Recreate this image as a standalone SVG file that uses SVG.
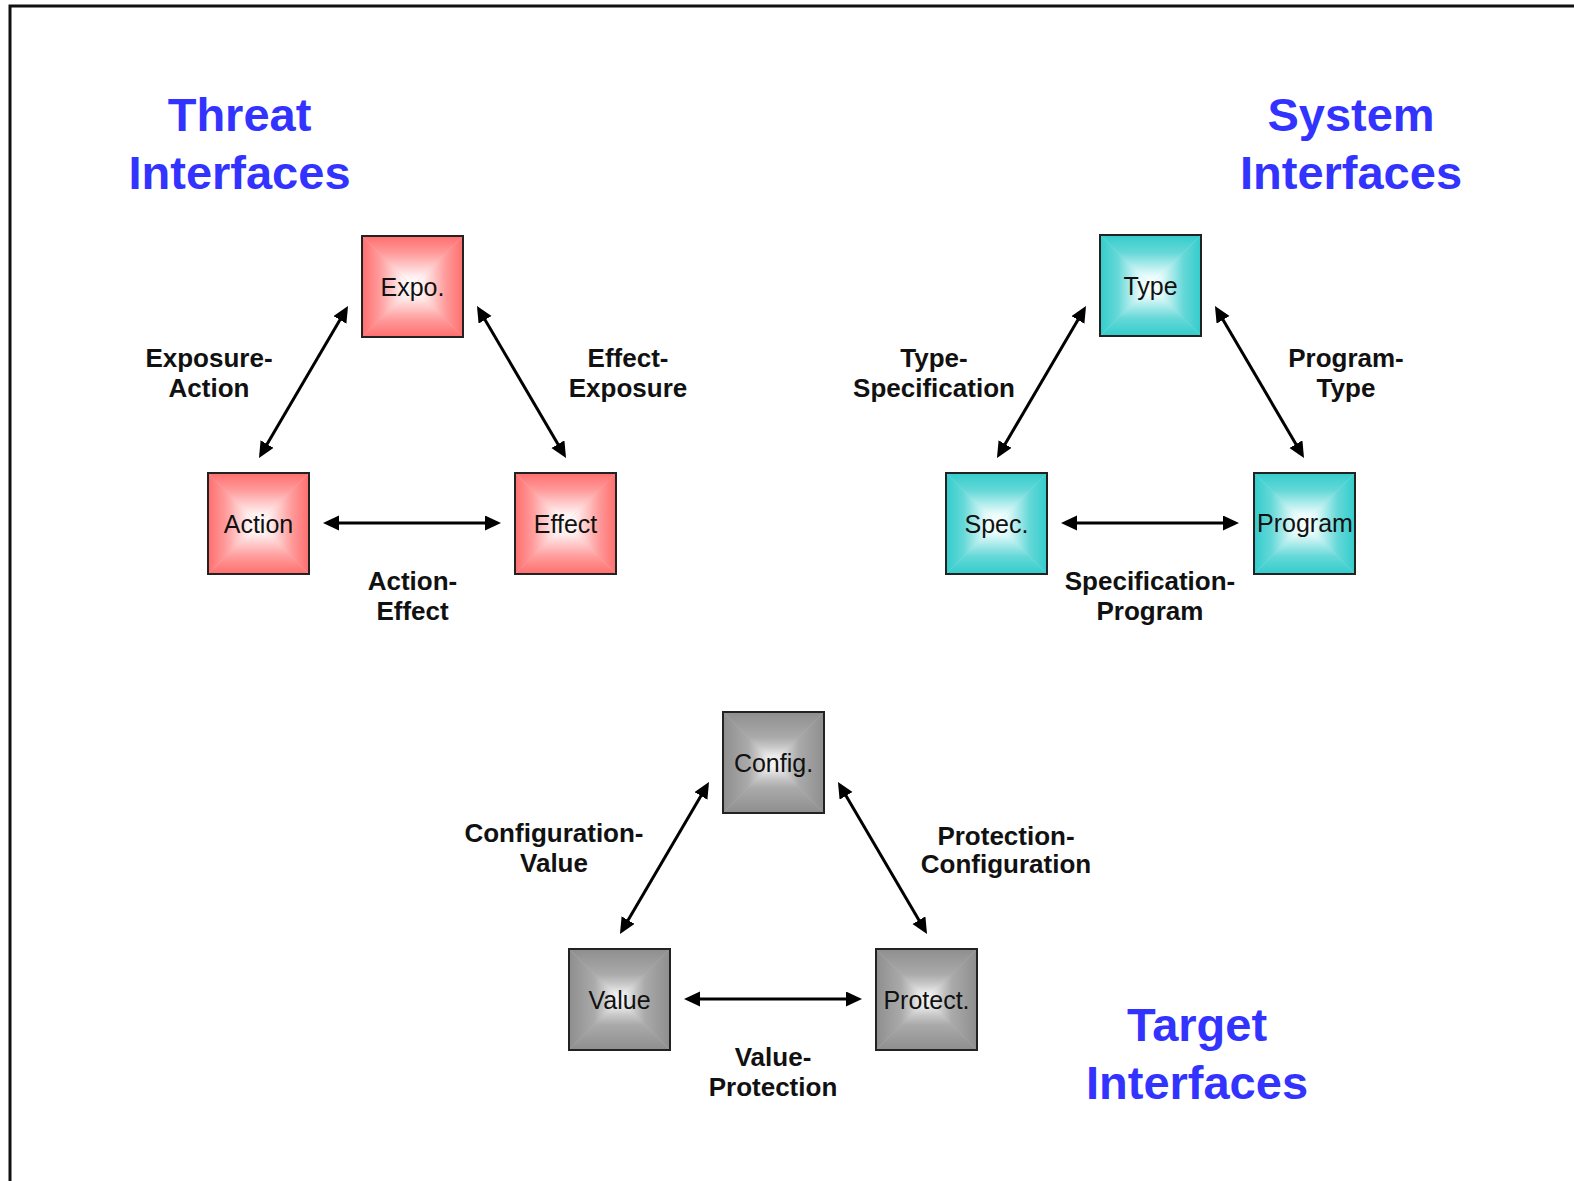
<svg xmlns="http://www.w3.org/2000/svg" xmlns:xlink="http://www.w3.org/1999/xlink" width="1574" height="1181" viewBox="0 0 1574 1181">
<style>
.frame{fill:none;stroke:#111;stroke-width:3}
.title{font-family:"Liberation Sans",Arial,sans-serif;font-weight:bold;font-size:47px;fill:#3333FF;text-anchor:middle}
.lbl{font-family:"Liberation Sans",Arial,sans-serif;font-weight:bold;font-size:26px;fill:#111;text-anchor:middle}
.ntxt{font-family:"Liberation Sans",Arial,sans-serif;font-size:25px;fill:#111;text-anchor:middle}
.box{fill:none;stroke:#222;stroke-width:2}
.conn{stroke:#000;stroke-width:3;fill:none;marker-start:url(#ah);marker-end:url(#ah)}
</style>
<defs>
<marker id="ah" markerUnits="userSpaceOnUse" markerWidth="18" markerHeight="16" refX="12" refY="7.5" orient="auto-start-reverse" viewBox="0 0 18 16">
<path d="M0,0 L16,7.5 L0,15 z" fill="#000"/>
</marker>
<linearGradient id="rT" x1="0" y1="0" x2="0" y2="1"><stop offset="0" stop-color="#ff6e6e"/><stop offset="0.35" stop-color="#ff9c9c"/><stop offset="0.8" stop-color="#fff0f0"/><stop offset="1" stop-color="#ffffff"/></linearGradient>
<linearGradient id="rB" href="#rT" xlink:href="#rT" x1="0" y1="1" x2="0" y2="0"/>
<linearGradient id="rL" href="#rT" xlink:href="#rT" x1="0" y1="0" x2="1" y2="0"/>
<linearGradient id="rR" href="#rT" xlink:href="#rT" x1="1" y1="0" x2="0" y2="0"/>
<linearGradient id="cT" x1="0" y1="0" x2="0" y2="1"><stop offset="0" stop-color="#33cccc"/><stop offset="0.35" stop-color="#66d8d8"/><stop offset="0.8" stop-color="#e8fbfb"/><stop offset="1" stop-color="#ffffff"/></linearGradient>
<linearGradient id="cB" href="#cT" xlink:href="#cT" x1="0" y1="1" x2="0" y2="0"/>
<linearGradient id="cL" href="#cT" xlink:href="#cT" x1="0" y1="0" x2="1" y2="0"/>
<linearGradient id="cR" href="#cT" xlink:href="#cT" x1="1" y1="0" x2="0" y2="0"/>
<linearGradient id="gT" x1="0" y1="0" x2="0" y2="1"><stop offset="0" stop-color="#8e8e8e"/><stop offset="0.5" stop-color="#aaaaaa"/><stop offset="0.68" stop-color="#c6c6c6"/><stop offset="0.85" stop-color="#e8e8e8"/><stop offset="1" stop-color="#fafafa"/></linearGradient>
<linearGradient id="gB" href="#gT" xlink:href="#gT" x1="0" y1="1" x2="0" y2="0"/>
<linearGradient id="gL" href="#gT" xlink:href="#gT" x1="0" y1="0" x2="1" y2="0"/>
<linearGradient id="gR" href="#gT" xlink:href="#gT" x1="1" y1="0" x2="0" y2="0"/>
<g id="pRed">
<rect x="0" y="0" width="101" height="101" fill="#ffb0b0"/>
<polygon points="0,0 101,0 50.5,50.5" fill="url(#rT)"/>
<polygon points="0,101 101,101 50.5,50.5" fill="url(#rB)"/>
<polygon points="0,0 0,101 50.5,50.5" fill="url(#rL)"/>
<polygon points="101,0 101,101 50.5,50.5" fill="url(#rR)"/>
</g>
<g id="pCyan">
<rect x="0" y="0" width="101" height="101" fill="#99e6e6"/>
<polygon points="0,0 101,0 50.5,50.5" fill="url(#cT)"/>
<polygon points="0,101 101,101 50.5,50.5" fill="url(#cB)"/>
<polygon points="0,0 0,101 50.5,50.5" fill="url(#cL)"/>
<polygon points="101,0 101,101 50.5,50.5" fill="url(#cR)"/>
</g>
<g id="pGray">
<rect x="0" y="0" width="101" height="101" fill="#b8b8b8"/>
<polygon points="0,0 101,0 50.5,50.5" fill="url(#gT)"/>
<polygon points="0,101 101,101 50.5,50.5" fill="url(#gB)"/>
<polygon points="0,0 0,101 50.5,50.5" fill="url(#gL)"/>
<polygon points="101,0 101,101 50.5,50.5" fill="url(#gR)"/>
</g>
</defs>
<rect x="0" y="0" width="1574" height="1181" fill="#fff"/>
<rect class="frame" x="10" y="6" width="1600" height="1220"/>

<g id="titles">
<text class="title" x="239.5" y="131">Threat</text>
<text class="title" x="239.5" y="189">Interfaces</text>
<text class="title" x="1351" y="131">System</text>
<text class="title" x="1351" y="189">Interfaces</text>
<text class="title" x="1197" y="1040.5">Target</text>
<text class="title" x="1197" y="1098.5">Interfaces</text>
</g>

<g id="connectors">
<line class="conn" x1="346" y1="309.5" x2="261" y2="454.5"/>
<line class="conn" x1="479" y1="309.5" x2="564" y2="454.5"/>
<line class="conn" x1="327" y1="523" x2="497" y2="523"/>
<line class="conn" x1="1084" y1="309.5" x2="999" y2="454.5"/>
<line class="conn" x1="1217" y1="309.5" x2="1302" y2="454.5"/>
<line class="conn" x1="1065" y1="523" x2="1235" y2="523"/>
<line class="conn" x1="707" y1="785.5" x2="622" y2="930.5"/>
<line class="conn" x1="840" y1="785.5" x2="925" y2="930.5"/>
<line class="conn" x1="688" y1="999" x2="858" y2="999"/>
</g>

<g id="labels">
<text class="lbl" x="209" y="367">Exposure-</text>
<text class="lbl" x="209" y="397">Action</text>
<text class="lbl" x="628" y="367">Effect-</text>
<text class="lbl" x="628" y="397">Exposure</text>
<text class="lbl" x="412.5" y="590">Action-</text>
<text class="lbl" x="412.5" y="620">Effect</text>
<text class="lbl" x="934" y="367">Type-</text>
<text class="lbl" x="934" y="397">Specification</text>
<text class="lbl" x="1346" y="367">Program-</text>
<text class="lbl" x="1346" y="397">Type</text>
<text class="lbl" x="1150" y="590">Specification-</text>
<text class="lbl" x="1150" y="620">Program</text>
<text class="lbl" x="554" y="842">Configuration-</text>
<text class="lbl" x="554" y="872">Value</text>
<text class="lbl" x="1006" y="845">Protection-</text>
<text class="lbl" x="1006" y="873">Configuration</text>
<text class="lbl" x="773" y="1066">Value-</text>
<text class="lbl" x="773" y="1096">Protection</text>
</g>

<g id="node-expo"><use href="#pRed" xlink:href="#pRed" x="362" y="236"/><rect class="box" x="362" y="236" width="101" height="101"/><text class="ntxt" x="412.5" y="295.5">Expo.</text></g>
<g id="node-action"><use href="#pRed" xlink:href="#pRed" x="208" y="473"/><rect class="box" x="208" y="473" width="101" height="101"/><text class="ntxt" x="258.5" y="532.5">Action</text></g>
<g id="node-effect"><use href="#pRed" xlink:href="#pRed" x="515" y="473"/><rect class="box" x="515" y="473" width="101" height="101"/><text class="ntxt" x="565.5" y="532.5">Effect</text></g>

<g id="node-type"><use href="#pCyan" xlink:href="#pCyan" x="1100" y="235"/><rect class="box" x="1100" y="235" width="101" height="101"/><text class="ntxt" x="1150.5" y="294.5">Type</text></g>
<g id="node-spec"><use href="#pCyan" xlink:href="#pCyan" x="946" y="473"/><rect class="box" x="946" y="473" width="101" height="101"/><text class="ntxt" x="996.5" y="532.5">Spec.</text></g>
<g id="node-program"><use href="#pCyan" xlink:href="#pCyan" x="1254" y="473"/><rect class="box" x="1254" y="473" width="101" height="101"/><text class="ntxt" x="1305" y="532">Program</text></g>

<g id="node-config"><use href="#pGray" xlink:href="#pGray" x="723" y="712"/><rect class="box" x="723" y="712" width="101" height="101"/><text class="ntxt" x="773.5" y="771.5">Config.</text></g>
<g id="node-value"><use href="#pGray" xlink:href="#pGray" x="569" y="949"/><rect class="box" x="569" y="949" width="101" height="101"/><text class="ntxt" x="619.5" y="1008.5">Value</text></g>
<g id="node-protect"><use href="#pGray" xlink:href="#pGray" x="876" y="949"/><rect class="box" x="876" y="949" width="101" height="101"/><text class="ntxt" x="926.5" y="1008.5">Protect.</text></g>
</svg>
